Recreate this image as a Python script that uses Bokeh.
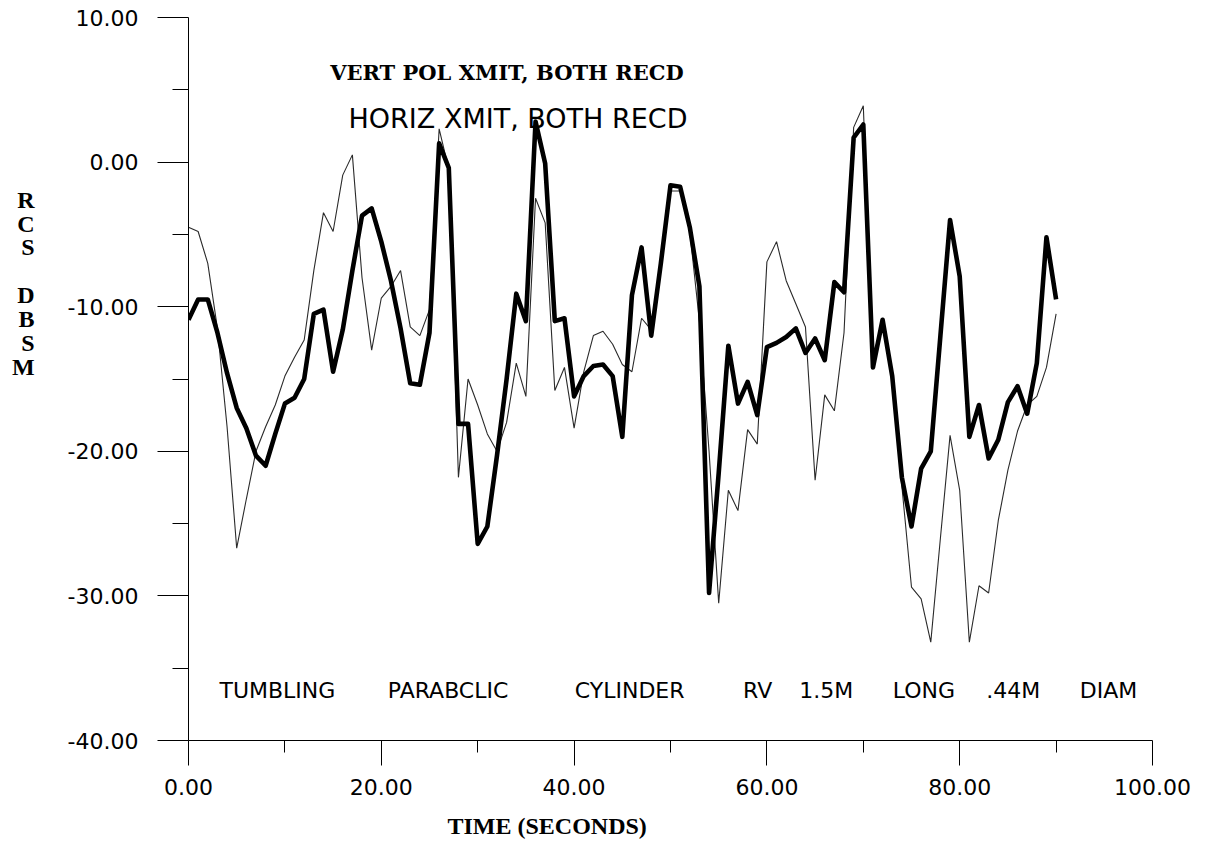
from bokeh.plotting import figure
from bokeh.models import Range1d, FixedTicker, NumeralTickFormatter, Label, Title
from bokeh.embed import file_html
from bokeh.resources import INLINE

# ---- data ----
time_s = list(range(0, 91))

vert_pol = [
    -10.9, -9.5, -9.5, -11.8, -14.6, -17.0, -18.4, -20.3, -21.0, -18.8,
    -16.7, -16.3, -15.0, -10.5, -10.2, -14.5, -11.6, -7.5, -3.7, -3.2,
    -5.5, -8.2, -11.5, -15.3, -15.4, -11.8, 1.3, -0.4, -18.1, -18.1,
    -26.4, -25.2, -20.3, -15.0, -9.1, -11.0, 2.8, -0.1, -11.0, -10.8,
    -16.2, -14.8, -14.1, -14.0, -14.8, -19.0, -9.2, -5.9, -12.0, -7.0,
    -1.6, -1.7, -4.5, -8.6, -29.8, -21.5, -12.7, -16.7, -15.2, -17.5,
    -12.8, -12.5, -12.1, -11.5, -13.2, -12.2, -13.7, -8.3, -9.0, 1.7,
    2.6, -14.2, -10.9, -14.8, -21.8, -25.2, -21.2, -20.0, -12.0, -4.0,
    -7.9, -19.0, -16.8, -20.5, -19.2, -16.6, -15.5, -17.4, -13.9, -5.2,
    -9.5,
]

horiz_xmit = [
    -4.5, -4.8, -7.0, -11.5, -18.3, -26.7, -23.3, -20.0, -18.3, -16.8,
    -14.8, -13.5, -12.3, -7.5, -3.5, -4.8, -0.9, 0.5, -8.0, -13.0,
    -9.4, -8.6, -7.5, -11.4, -12.0, -10.2, 2.3, -0.5, -21.8, -15.0,
    -16.8, -18.8, -20.0, -18.0, -13.9, -16.2, -2.5, -4.2, -15.8, -14.2,
    -18.4, -14.5, -12.0, -11.7, -12.6, -14.0, -14.5, -10.8, -11.6, -7.0,
    -2.0, -2.0, -4.8, -11.0, -20.0, -30.5, -22.7, -24.1, -18.5, -19.5,
    -6.9, -5.5, -8.2, -9.8, -11.4, -22.0, -16.1, -17.2, -11.8, 2.4,
    3.9, -13.5, -11.0, -15.0, -22.4, -29.4, -30.2, -33.2, -26.0, -18.9,
    -22.7, -33.2, -29.3, -29.8, -24.8, -21.3, -18.6, -16.8, -16.2, -14.2,
    -10.5,
]

x_major = [0, 20, 40, 60, 80, 100]
x_minor = [10, 30, 50, 70, 90]
y_major = [-40, -30, -20, -10, 0, 10]
y_minor = [-35, -25, -15, -5, 5]

title_vert = "VERT POL XMIT, BOTH RECD"
title_horiz = "HORIZ XMIT, BOTH RECD"
note_text = "TUMBLING PARABCLIC CYLINDER RV 1.5M LONG .44M DIAM"
x_title = "TIME (SECONDS)"
y_title_letters = ["R", "C", "S", " ", "D", "B", "S", "M"]

# ---- figure ----
p = figure(
    frame_width=964, frame_height=723,
    x_range=Range1d(0, 100), y_range=Range1d(-40, 10),
    min_border_left=188, min_border_top=17, min_border_right=50, min_border_bottom=60,
    output_backend="svg", toolbar_location=None,
)
p.grid.visible = False
p.outline_line_color = None
p.background_fill_color = "white"
p.border_fill_color = "white"

p.line(time_s, horiz_xmit, line_width=1.1, line_color="#2a2a2a")
p.line(time_s, vert_pol, line_width=4.6, line_color="black", line_join="round")

tick_font = "DejaVu Sans"

xa = p.xaxis[0]
xa.ticker = FixedTicker(ticks=x_major, minor_ticks=x_minor)
xa.formatter = NumeralTickFormatter(format="0.00")
xa.major_tick_in = 0
xa.major_tick_out = 25
xa.minor_tick_in = 0
xa.minor_tick_out = 12
xa.major_label_standoff = 13
xa.major_label_text_font = tick_font
xa.major_label_text_font_size = "22px"
xa.major_label_text_color = "black"
xa.axis_line_color = "black"
xa.major_tick_line_color = "black"
xa.minor_tick_line_color = "black"

ya = p.yaxis[0]
ya.ticker = FixedTicker(ticks=y_major, minor_ticks=y_minor)
ya.formatter = NumeralTickFormatter(format="0.00")
ya.major_tick_in = 0
ya.major_tick_out = 31
ya.minor_tick_in = 0
ya.minor_tick_out = 16
ya.major_label_standoff = 19
ya.major_label_text_font = tick_font
ya.major_label_text_font_size = "22px"
ya.major_label_text_color = "black"
ya.axis_line_color = "black"
ya.major_tick_line_color = "black"
ya.minor_tick_line_color = "black"

# stacked y-axis title, shifted upward with blank padding lines
ya.axis_label = "\n".join(y_title_letters + [" "] * 8)
ya.axis_label_text_font = "Liberation Serif"
ya.axis_label_text_font_style = "bold"
ya.axis_label_text_font_size = "24px"
ya.axis_label_text_color = "black"
ya.axis_label_standoff = 30
try:
    ya.axis_label_orientation = "horizontal"
except Exception:
    pass
try:
    ya.axis_label_text_line_height = 0.92
except Exception:
    pass

# x-axis title placed left of centre as in the reference
p.add_layout(Title(text=x_title, align="left", offset=259, standoff=27,
                   text_font="Liberation Serif", text_font_style="bold",
                   text_font_size="24px", text_color="black"), "below")

# titles inside the plot
p.add_layout(Label(x=14.7, y=6.2, text=title_vert, text_align="left", text_baseline="middle",
                   text_font="DejaVu Serif", text_font_style="bold", text_font_size="21px",
                   text_color="black"))
p.add_layout(Label(x=16.6, y=3.0, text=title_horiz, text_align="left", text_baseline="middle",
                   text_font="DejaVu Sans", text_font_size="27px", text_color="black"))

# note line, words spread across the width as in the reference
words = note_text.split(" ")
start_px, end_px = 31, 966
n = len(note_text)
idx = 0
for w in words:
    xpos = start_px + (end_px - start_px) * idx / n
    p.add_layout(Label(x=xpos, y=50, x_units="screen", y_units="screen", text=w,
                       text_align="left", text_baseline="middle",
                       text_font="DejaVu Sans", text_font_size="22px", text_color="black"))
    idx += len(w) + 1

open("out.html", "w").write(file_html(p, INLINE))
